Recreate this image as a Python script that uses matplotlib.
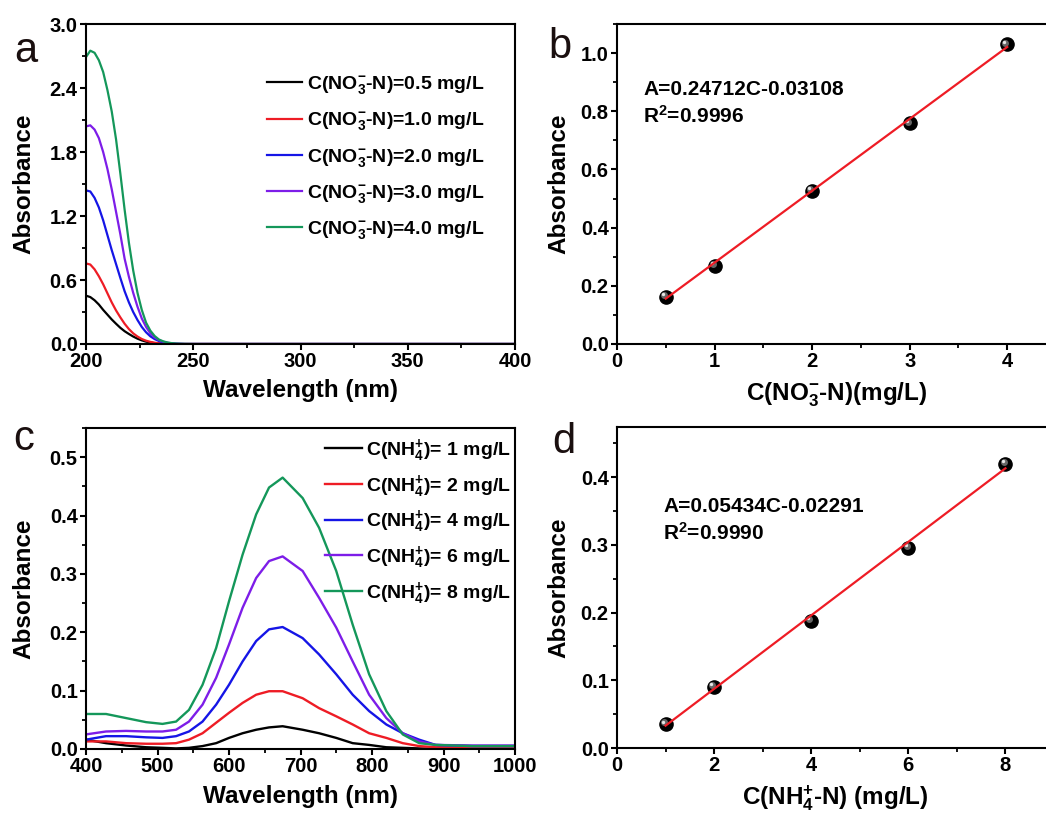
import matplotlib
matplotlib.use('Agg')
import matplotlib.pyplot as plt
from matplotlib.ticker import MultipleLocator, FormatStrFormatter
from matplotlib.transforms import offset_copy

plt.rcParams['font.family'] = ['Liberation Sans', 'DejaVu Sans']
plt.rcParams['font.weight'] = 'bold'
plt.rcParams['mathtext.fontset'] = 'custom'
plt.rcParams['mathtext.rm'] = 'Liberation Sans:bold'
plt.rcParams['mathtext.bf'] = 'Liberation Sans:bold'
plt.rcParams['mathtext.it'] = 'Liberation Sans:bold'
plt.rcParams['mathtext.sf'] = 'Liberation Sans:bold'
plt.rcParams['mathtext.default'] = 'rm'
plt.rcParams['axes.linewidth'] = 1.5

# ---------------- data ----------------
# panel a: nitrate spectra
wl_a = [200, 202, 204, 206, 208, 210, 212, 214, 216, 218, 220, 222, 224, 226,
        228, 230, 232, 234, 236, 238, 240, 242, 244, 246, 250, 300, 350, 400]
abs_a_05 = [0.453, 0.44, 0.41, 0.37, 0.32, 0.275, 0.23, 0.19, 0.152, 0.12, 0.094,
            0.07, 0.05, 0.034, 0.022, 0.014, 0.008, 0.005, 0.003, 0.001, 0, 0, 0, 0, 0, 0, 0, 0]
abs_a_10 = [0.755, 0.745, 0.70, 0.635, 0.56, 0.475, 0.39, 0.315, 0.25, 0.19, 0.14,
            0.10, 0.07, 0.047, 0.031, 0.02, 0.012, 0.007, 0.004, 0.002, 0.001, 0, 0, 0, 0, 0, 0, 0]
abs_a_20 = [1.44, 1.43, 1.37, 1.28, 1.16, 1.02, 0.88, 0.75, 0.62, 0.495, 0.39,
            0.30, 0.225, 0.16, 0.11, 0.072, 0.046, 0.028, 0.016, 0.009, 0.005, 0.002, 0.001, 0, 0, 0, 0, 0]
abs_a_30 = [2.04, 2.05, 2.01, 1.93, 1.80, 1.64, 1.45, 1.24, 1.03, 0.80, 0.63,
            0.48, 0.35, 0.24, 0.16, 0.10, 0.062, 0.037, 0.021, 0.012, 0.006, 0.003, 0.001, 0, 0, 0, 0, 0]
abs_a_40 = [2.69, 2.75, 2.73, 2.66, 2.55, 2.38, 2.18, 1.92, 1.60, 1.26, 0.95,
            0.69, 0.48, 0.32, 0.20, 0.125, 0.075, 0.042, 0.025, 0.014, 0.008, 0.004, 0.002, 0.001, 0, 0, 0, 0]
labels_a = ['0.5', '1.0', '2.0', '3.0', '4.0']

# panel b: nitrate calibration
conc_b = [0.5, 1, 2, 3, 4]
abs_b = [0.163, 0.269, 0.527, 0.758, 1.03]
fit_b_x = [0.5, 4.0]
fit_b_y = [0.156, 1.021]

# panel c: ammonium spectra
wl_c = [400, 428, 456, 484, 507, 526, 544, 563, 582, 600, 619, 638, 656, 675,
        703, 726, 750, 773, 796, 820, 843, 866, 889, 940, 1000]
abs_c_1 = [0.016, 0.010, 0.006, 0.003, 0.002, 0.001, 0.002, 0.005, 0.010, 0.019, 0.027,
           0.033, 0.037, 0.039, 0.033, 0.027, 0.019, 0.010, 0.007, 0.003, 0.002, 0.001,
           0.0, 0.0, 0.0]
abs_c_2 = [0.013, 0.013, 0.010, 0.009, 0.009, 0.010, 0.016, 0.027, 0.045, 0.062, 0.079,
           0.093, 0.099, 0.099, 0.087, 0.070, 0.056, 0.042, 0.027, 0.019, 0.010, 0.005,
           0.003, 0.004, 0.004]
abs_c_4 = [0.016, 0.022, 0.022, 0.020, 0.019, 0.022, 0.030, 0.047, 0.076, 0.110, 0.150,
           0.185, 0.205, 0.209, 0.190, 0.162, 0.128, 0.093, 0.065, 0.042, 0.027, 0.016,
           0.007, 0.005, 0.005]
abs_c_6 = [0.025, 0.030, 0.031, 0.030, 0.030, 0.033, 0.047, 0.076, 0.122, 0.179, 0.242,
           0.293, 0.322, 0.330, 0.305, 0.259, 0.208, 0.150, 0.093, 0.053, 0.027, 0.013,
           0.007, 0.006, 0.006]
abs_c_8 = [0.060, 0.060, 0.053, 0.046, 0.043, 0.047, 0.067, 0.110, 0.173, 0.253, 0.333,
           0.402, 0.448, 0.465, 0.430, 0.379, 0.305, 0.213, 0.128, 0.065, 0.025, 0.010,
           0.007, 0.005, 0.005]
labels_c = ['1', '2', '4', '6', '8']

# panel d: ammonium calibration
conc_d = [1, 2, 4, 6, 8]
abs_d = [0.035, 0.0897, 0.188, 0.295, 0.4195]
fit_d_x = [1, 8]
fit_d_y = [0.033, 0.413]

colors = ['#000000', '#ee1c25', '#1515e6', '#7d1de8', '#14975a']
fit_color = '#ee1c25'

# ---------------- figure ----------------
W, H = 1046, 814
fig = plt.figure(figsize=(W / 100, H / 100), dpi=100)


def px_axes(l, t, r, b):
    return fig.add_axes([l / W, 1 - b / H, (r - l) / W, (b - t) / H])


axa = px_axes(86, 24, 515, 344)
axb = px_axes(617, 24, 1056, 344)
axc = px_axes(86, 428, 515, 749)
axd = px_axes(617, 427, 1054, 748)


def style(ax, xmaj, xmin, ymaj, ymin, xfmt, yfmt):
    ax.xaxis.set_major_locator(MultipleLocator(xmaj))
    ax.xaxis.set_minor_locator(MultipleLocator(xmin))
    ax.yaxis.set_major_locator(MultipleLocator(ymaj))
    ax.yaxis.set_minor_locator(MultipleLocator(ymin))
    ax.xaxis.set_major_formatter(FormatStrFormatter(xfmt))
    ax.yaxis.set_major_formatter(FormatStrFormatter(yfmt))
    ax.tick_params(which='major', direction='out', length=4.5, width=1.5,
                   labelsize=14.5, pad=1.5, top=False, right=False)
    ax.tick_params(which='minor', direction='out', length=3, width=1.3,
                   top=False, right=False)
    for lab in ax.get_xticklabels() + ax.get_yticklabels():
        lab.set_fontweight('bold')


# panel a
series_a = [abs_a_05, abs_a_10, abs_a_20, abs_a_30, abs_a_40]
for ys, c, lab in zip(series_a, colors, labels_a):
    axa.plot(wl_a, ys, color=c, lw=1.6,
             label=r'C(NO$_3^{-}$-N)=' + lab + ' mg/L')
axa.set_xlim(200, 400)
axa.set_ylim(0, 3.0)
style(axa, 50, 25, 0.6, 0.3, '%d', '%.1f')
axa.set_xlabel('Wavelength (nm)', fontsize=17.5, fontweight='bold', labelpad=5.5)
axa.set_ylabel('Absorbance', fontsize=17.5, fontweight='bold', labelpad=10)
axa.legend(loc='upper left', bbox_to_anchor=(0.422, 0.843), frameon=False,
           fontsize=14, handlelength=1.8, handletextpad=0.25, labelspacing=0.73,
           borderpad=0, borderaxespad=0)

# panel b
axb.plot(conc_b, abs_b, 'o', ms=9.5, color='black', zorder=3)
axb.plot(conc_b, abs_b, 'o', ms=5, color='#666666', mec='none', zorder=4,
         transform=offset_copy(axb.transData, fig=fig, x=-1.3, y=1.3, units='points'))
axb.plot(conc_b, abs_b, 'o', ms=2.4, color='#e6e6e6', mec='none', zorder=5,
         transform=offset_copy(axb.transData, fig=fig, x=-2.0, y=2.0, units='points'))
axb.plot(fit_b_x, fit_b_y, color=fit_color, lw=1.6, zorder=6)
axb.set_xlim(0, 4.5)
axb.set_ylim(0, 1.1)
style(axb, 1, 0.5, 0.2, 0.1, '%d', '%.1f')
axb.set_xlabel(r'C(NO$_3^{-}$-N)(mg/L)', fontsize=17.5, fontweight='bold', labelpad=6.5)
axb.set_ylabel('Absorbance', fontsize=17.5, fontweight='bold', labelpad=7.6)
fig.text(643 / W, 1 - 95 / H, 'A=0.24712C-0.03108', fontsize=15, fontweight='bold')
fig.text(643 / W, 1 - 123 / H, r'R$^2$=0.9996', fontsize=15, fontweight='bold')

# panel c
series_c = [abs_c_1, abs_c_2, abs_c_4, abs_c_6, abs_c_8]
for ys, c, lab in zip(series_c, colors, labels_c):
    axc.plot(wl_c, ys, color=c, lw=1.7,
             label=r'C(NH$_4^{+}$)= ' + lab + ' mg/L')
axc.set_xlim(400, 1000)
axc.set_ylim(0, 0.55)
style(axc, 100, 50, 0.1, 0.05, '%d', '%.1f')
axc.set_xlabel('Wavelength (nm)', fontsize=17.5, fontweight='bold', labelpad=6)
axc.set_ylabel('Absorbance', fontsize=17.5, fontweight='bold', labelpad=10)
axc.legend(loc='upper left', bbox_to_anchor=(0.557, 0.972), frameon=False,
           fontsize=14, handlelength=1.9, handletextpad=0.2, labelspacing=0.45,
           borderpad=0, borderaxespad=0)

# panel d
axd.plot(conc_d, abs_d, 'o', ms=9.5, color='black', zorder=3)
axd.plot(conc_d, abs_d, 'o', ms=5, color='#666666', mec='none', zorder=4,
         transform=offset_copy(axd.transData, fig=fig, x=-1.3, y=1.3, units='points'))
axd.plot(conc_d, abs_d, 'o', ms=2.4, color='#e6e6e6', mec='none', zorder=5,
         transform=offset_copy(axd.transData, fig=fig, x=-2.0, y=2.0, units='points'))
axd.plot(fit_d_x, fit_d_y, color=fit_color, lw=1.6, zorder=6)
axd.set_xlim(0, 9)
axd.set_ylim(0, 0.474)
style(axd, 2, 1, 0.1, 0.05, '%d', '%.1f')
axd.set_xlabel(r'C(NH$_4^{+}$-N) (mg/L)', fontsize=17.5, fontweight='bold', labelpad=6)
axd.set_ylabel('Absorbance', fontsize=17.5, fontweight='bold', labelpad=7.6)
fig.text(663 / W, 1 - 512 / H, 'A=0.05434C-0.02291', fontsize=15, fontweight='bold')
fig.text(663 / W, 1 - 540 / H, r'R$^2$=0.9990', fontsize=15, fontweight='bold')

# panel letters
for s, x, y in [('a', 14, 62), ('b', 548, 58), ('c', 13, 450), ('d', 552, 453)]:
    fig.text(x / W, 1 - y / H, s, fontsize=30, fontweight='normal',
             va='baseline', ha='left', color='#1a0f0f')

fig.savefig('out.png', dpi=100)
